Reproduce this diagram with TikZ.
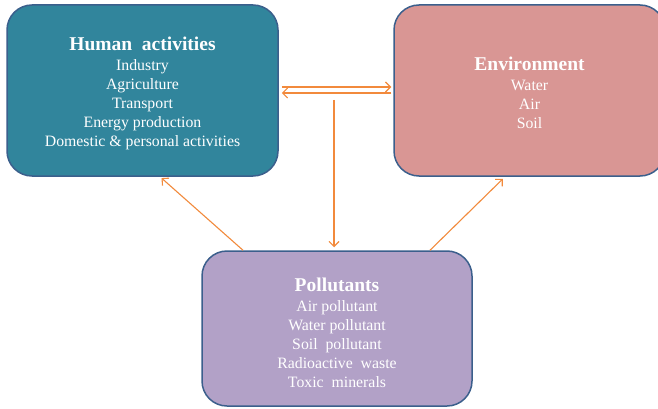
\documentclass[tikz,border=0pt]{standalone}
\usepackage{fontspec}
\setmainfont{Liberation Serif}
\usetikzlibrary{arrows.meta}
\definecolor{humanfill}{HTML}{31859C}
\definecolor{envfill}{HTML}{D99694}
\definecolor{pollfill}{HTML}{B2A1C7}
\definecolor{boxline}{HTML}{3B5F8C}
\definecolor{arrowline}{HTML}{F28A3C}
\newcommand{\headfont}{\bfseries\fontsize{19.5}{22}\selectfont}
\begin{document}
\begin{tikzpicture}[x=1pt,y=-1pt,
  box/.style={draw=boxline, line width=1.5pt, rounded corners=25pt, inner sep=0pt},
  boxtext/.style={text=white, align=center, inner sep=0pt,
    font=\fontsize{15.8}{19}\selectfont},
  arr/.style={draw=arrowline, line width=1.1pt,
    -{Straight Barb[length=5pt,width=10pt]}}]
\useasboundingbox (0,0) rectangle (658,409);
\fill[white] (0,0) rectangle (658,409);

% three rounded boxes
\node[box, fill=humanfill, minimum width=271pt, minimum height=171pt]
  (human) at (142.5,90.5) {};
\node[box, fill=envfill, minimum width=271pt, minimum height=171pt]
  (env) at (529.5,90.5) {};
\node[box, fill=pollfill, minimum width=270pt, minimum height=155pt]
  (poll) at (337,328.5) {};

% their texts
\node[boxtext] (humantxt) at ([yshift=-3pt]human.center)
  {{\headfont Human\ \ activities}\\[1pt] Industry\\ Agriculture\\ Transport\\
   Energy production\\ Domestic \& personal activities};
\node[boxtext] (envtxt) at ([yshift=-2pt]env.center)
  {{\headfont Environment}\\[1pt] Water\\ Air\\ Soil};
\node[boxtext] (polltxt) at ([yshift=-4pt]poll.center)
  {{\headfont Pollutants}\\[1pt] Air pollutant\\ Water pollutant\\ Soil\ \ pollutant\\
   Radioactive\ \ waste\\ Toxic\ \ minerals};

% two-way link between activities and environment
\draw[arr, shorten <=3pt, shorten >=2pt]
  ([yshift=3.5pt]human.east) -- ([yshift=3.5pt]env.west);
\draw[arr, shorten <=2pt, shorten >=3pt]
  ([yshift=-2.5pt]env.west) -- ([yshift=-2.5pt]human.east);

% downward link into pollutants
\coordinate (split) at (334,100);
\draw[arr, shorten >=3pt] (split) -- (split |- poll.north);

% pollutants feeding back to both boxes
\draw[arr, shorten >=2pt] ([xshift=-94pt]poll.north) -- ([xshift=17.5pt]human.south);
\draw[arr, shorten >=3pt] ([xshift=93pt]poll.north) -- ([xshift=-24.5pt]env.south);
\end{tikzpicture}
\end{document}
